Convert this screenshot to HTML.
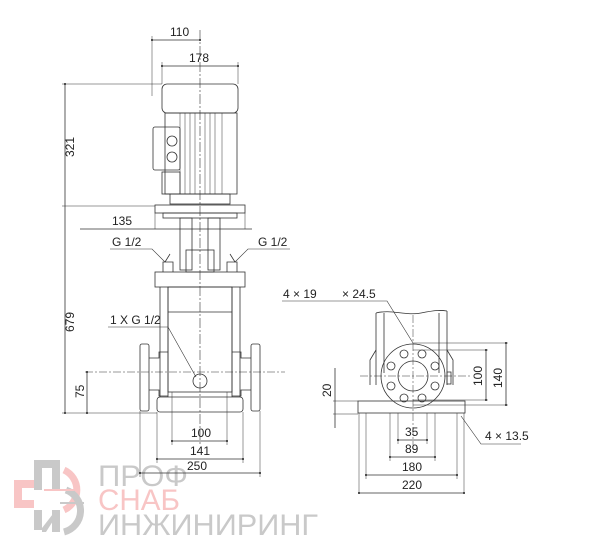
<!DOCTYPE html>
<html><head><meta charset="utf-8"><style>html,body{margin:0;padding:0;background:#fff}svg{display:block}</style></head><body>
<svg width="600" height="552" viewBox="0 0 600 552" xmlns="http://www.w3.org/2000/svg" font-family="Liberation Sans, sans-serif" font-size="12" fill="none" stroke="#333" stroke-width="0.8">
<defs><marker id="d" markerWidth="4" markerHeight="4" refX="2" refY="2"><circle cx="2" cy="2" r="1.3" fill="#222" stroke="none"/></marker></defs>
<!-- watermark -->
<g opacity="0.45" stroke="none">
 <path d="M34 460h26v30h-8v-22h-10v22h-8z" fill="#888"/>
 <path d="M14 480h20v8h-12v12h12v8h-20z" fill="#f08080"/>
 <path d="M34 510h8v20h-8zM52 510h8v22h-8zM42 528l14-18h4l-14 22h-4z" fill="#888"/>
 <path d="M64 470a22 22 0 0 1 0 40" stroke="#f08080" stroke-width="7" fill="none"/>
 <path d="M66 490a22 22 0 0 1 -2 42" stroke="#888" stroke-width="7" fill="none"/>
 <line x1="44" y1="490" x2="74" y2="490" stroke="#f08080" stroke-width="2"/>
 <line x1="60" y1="503" x2="84" y2="503" stroke="#888" stroke-width="2"/>
 <text x="98" y="486" font-size="30" fill="#888" textLength="90" lengthAdjust="spacingAndGlyphs">ПРОФ</text>
 <text x="98" y="510" font-size="30" fill="#f08080" textLength="82" lengthAdjust="spacingAndGlyphs">СНАБ</text>
 <text x="98" y="535" font-size="30" fill="#888" textLength="220" lengthAdjust="spacingAndGlyphs">ИНЖИНИРИНГ</text>
</g>
<line x1="200" y1="30" x2="200" y2="445" stroke-dasharray="10 2 2 2" stroke-width="0.6"/>
<!-- motor -->
<rect x="162" y="84" width="76" height="29" rx="5"/>
<rect x="165" y="113" width="72" height="81"/>
<path d="M180 113v81M222 113v81M185 113v81M190 113v81M195 113v81M205 113v81M210 113v81M215 113v81" stroke-width="0.5"/>
<rect x="153" y="127" width="27" height="43" rx="2"/>
<rect x="162" y="172" width="18" height="22"/>
<circle cx="172" cy="141" r="5"/><circle cx="172" cy="157" r="5"/>
<rect x="170" y="194" width="60" height="10"/>
<rect x="155" y="205" width="90" height="8"/>
<rect x="163" y="213" width="74" height="5"/>
<rect x="180" y="218" width="12" height="52"/><rect x="208" y="218" width="12" height="52"/>
<rect x="186" y="250" width="28" height="22"/>
<path d="M163 272v-10h10v10M227 272v-10h10v10"/>
<path d="M165 262l5-8M235 262l-5-8"/>
<rect x="155" y="272" width="90" height="15"/>
<path d="M160 287v110M168 287v110M232 287v110M240 287v110" />
<rect x="168" y="287" width="64" height="105"/>
<line x1="168" y1="312" x2="232" y2="312"/>
<rect x="140" y="344" width="9" height="67" rx="2"/>
<rect x="251" y="344" width="9" height="67" rx="2"/>
<path d="M149 358h10v-6h9M149 390h10v6h9M251 358h-10v-6h-9M251 390h-10v6h-9"/>
<circle cx="200" cy="381" r="7"/>
<rect x="157" y="397" width="86" height="15" rx="3"/>
<!-- left dims -->
<path d="M152 36v60" stroke-width="0.5"/>
<line x1="152" y1="40" x2="200" y2="40" marker-start="url(#d)" marker-end="url(#d)"/><text x="170" y="36" fill="#222" stroke="none">110</text>
<path d="M162 62v22M238 62v22" stroke-width="0.5"/>
<line x1="162" y1="66" x2="238" y2="66" marker-start="url(#d)" marker-end="url(#d)"/><text x="189" y="62" fill="#222" stroke="none">178</text>
<line x1="62" y1="84" x2="162" y2="84" stroke-width="0.5"/>
<line x1="62" y1="206" x2="155" y2="206" stroke-width="0.5"/>
<line x1="65" y1="84" x2="65" y2="413" marker-start="url(#d)" marker-end="url(#d)"/>
<text transform="translate(74,157) rotate(-90)" fill="#222" stroke="none">321</text>
<text transform="translate(74,332) rotate(-90)" fill="#222" stroke="none">679</text>
<line x1="80" y1="229" x2="252" y2="229"/><path d="M155 213v16M245 213v16" stroke-width="0.5"/>
<text x="112" y="225" fill="#222" stroke="none">135</text>
<text x="112" y="246" fill="#222" stroke="none">G 1/2</text><path d="M110 249h42l13 13" stroke-width="0.6"/>
<text x="258" y="246" fill="#222" stroke="none">G 1/2</text><path d="M290 249h-42l-13 13" stroke-width="0.6"/>
<text x="110" y="324" fill="#222" stroke="none">1 X G 1/2</text><path d="M108 327h60l28 50" stroke-width="0.6"/>
<line x1="62" y1="413" x2="157" y2="413" stroke-width="0.5"/>
<line x1="85" y1="372" x2="285" y2="372" stroke-dasharray="8 2 2 2" stroke-width="0.5"/>
<line x1="87" y1="372" x2="87" y2="413" marker-start="url(#d)" marker-end="url(#d)"/>
<text transform="translate(84,398) rotate(-90)" fill="#222" stroke="none">75</text>
<path d="M172 392v53M227 392v53M157 412v51M243 412v51M140 411v66M260 411v66" stroke-width="0.5"/>
<line x1="172" y1="441" x2="227" y2="441" marker-start="url(#d)" marker-end="url(#d)"/><text x="191" y="437" fill="#222" stroke="none">100</text>
<line x1="157" y1="459" x2="243" y2="459" marker-start="url(#d)" marker-end="url(#d)"/><text x="190" y="455" fill="#222" stroke="none">141</text>
<line x1="140" y1="473" x2="260" y2="473" marker-start="url(#d)" marker-end="url(#d)"/><text x="187" y="470" fill="#222" stroke="none">250</text>
<!-- right view -->
<path d="M376 313c15-4 30 3 45 0s20-3 26-2" />
<path d="M376 313v72M384 313v60M439 313v60M447 311v74"/>
<path d="M376 350l-6 10v25M447 350l6 10v25"/>
<circle cx="413" cy="376" r="32"/>
<circle cx="413" cy="376" r="15"/>
<g><circle cx="404" cy="354" r="4"/><circle cx="422" cy="354" r="4"/><circle cx="435" cy="366" r="4"/><circle cx="435" cy="386" r="4"/><circle cx="422" cy="398" r="4"/><circle cx="404" cy="398" r="4"/><circle cx="391" cy="386" r="4"/><circle cx="391" cy="366" r="4"/></g>
<rect x="447" y="372" width="4" height="12"/>
<rect x="358" y="401" width="107" height="12"/>
<line x1="413" y1="315" x2="413" y2="445" stroke-dasharray="8 2 2 2" stroke-width="0.5"/>
<line x1="360" y1="376" x2="470" y2="376" stroke-dasharray="8 2 2 2" stroke-width="0.5"/>
<path d="M413 343h95M413 350h75M413 400h75M413 405h95" stroke-width="0.6"/>
<line x1="486" y1="350" x2="486" y2="400" marker-start="url(#d)" marker-end="url(#d)"/><text transform="translate(482,386) rotate(-90)" fill="#222" stroke="none">100</text>
<line x1="506" y1="343" x2="506" y2="405" marker-start="url(#d)" marker-end="url(#d)"/><text transform="translate(502,388) rotate(-90)" fill="#222" stroke="none">140</text>
<line x1="335" y1="368" x2="335" y2="428"/>
<path d="M333 401h25M333 414h25" stroke-width="0.6"/>
<text transform="translate(331,397) rotate(-90)" fill="#222" stroke="none">20</text>
<text x="283" y="298" fill="#222" stroke="none">4 × 19</text><text x="342" y="298" fill="#222" stroke="none">× 24.5</text>
<path d="M282 301h105l26 42" stroke-width="0.6"/>
<text x="485" y="440" fill="#222" stroke="none">4 × 13.5</text>
<path d="M521 444h-40l-20-28" stroke-width="0.6"/>
<path d="M398 413v31M427 413v31M390 413v48M435 413v48M366 413v66M457 413v66M359 413v80M464 413v80" stroke-width="0.5"/>
<line x1="398" y1="440" x2="427" y2="440" marker-start="url(#d)" marker-end="url(#d)"/><text x="405" y="436" fill="#222" stroke="none">35</text>
<line x1="390" y1="457" x2="435" y2="457" marker-start="url(#d)" marker-end="url(#d)"/><text x="405" y="453" fill="#222" stroke="none">89</text>
<line x1="366" y1="475" x2="457" y2="475" marker-start="url(#d)" marker-end="url(#d)"/><text x="402" y="471" fill="#222" stroke="none">180</text>
<line x1="359" y1="493" x2="464" y2="493" marker-start="url(#d)" marker-end="url(#d)"/><text x="402" y="489" fill="#222" stroke="none">220</text>
</svg>
</body></html>
